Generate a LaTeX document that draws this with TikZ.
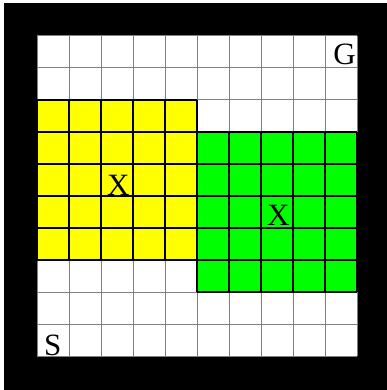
\documentclass[tikz,border=0pt]{standalone}
\usepackage{fontspec}
\setmainfont{Liberation Serif}
\definecolor{lgreen}{RGB}{0,255,0}
\definecolor{lyellow}{RGB}{255,255,0}
\definecolor{lgray}{RGB}{128,128,128}
\begin{document}
\begin{tikzpicture}[x=1pt,y=-1pt,
  gridw/.style={draw=lgray, line width=1pt},
  gridc/.style={draw=black, line width=1.2pt},
  lbl/.style={font=\fontsize{31}{31}\selectfont, inner sep=0pt}]
\useasboundingbox (0,0) rectangle (387,390);
\fill[black] (4,3) rectangle (387,390);
\fill[white] (37,36) rectangle (357,356);
\foreach \i in {0,...,10} {
  \draw[gridw] ({37+32*\i},36) -- ({37+32*\i},356);
  \draw[gridw] (37,{36+32*\i}) -- (357,{36+32*\i});
}
% yellow region
\fill[lyellow] (37,100) rectangle (197,260);
\foreach \i in {0,...,5} {
  \draw[gridc] ({37+32*\i},100) -- ({37+32*\i},260);
  \draw[gridc] (37,{100+32*\i}) -- (197,{100+32*\i});
}
% green region
\fill[lgreen] (197,132) rectangle (357,292);
\foreach \i in {0,...,5} {
  \draw[gridc] ({197+32*\i},132) -- ({197+32*\i},292);
  \draw[gridc] (197,{132+32*\i}) -- (357,{132+32*\i});
}
\node[lbl, anchor=base east] (g) at (356,65) {G};
\node[lbl, anchor=base west] (s) at (44,355) {S};
\node[lbl, anchor=base west] (x1) at (107,195) {X};
\node[lbl, anchor=base west] (x2) at (267,225) {X};
\end{tikzpicture}
\end{document}
